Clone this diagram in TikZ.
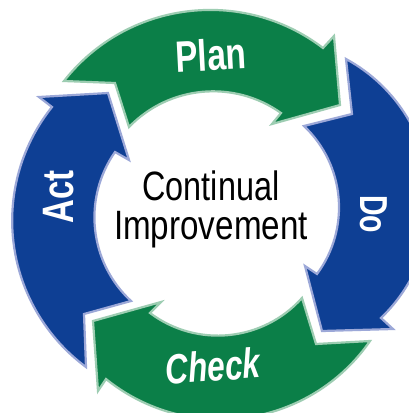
\documentclass[tikz,border=0pt]{standalone}
\usepackage{fontspec}
\setmainfont{Liberation Sans}
\usetikzlibrary{svg.path}
\definecolor{gfill}{HTML}{0B7F48}
\definecolor{gedge}{HTML}{9DCDB2}
\definecolor{bfill}{HTML}{0E3F94}
\definecolor{bedge}{HTML}{9CA8D8}
\tikzset{
  greenarrow/.style={fill=gfill,draw=gedge,line width=2.2pt,line join=miter,miter limit=10},
  bluearrow/.style={fill=bfill,draw=bedge,line width=2.2pt,line join=miter,miter limit=10},
  stagelabel/.style={text=white,font=\bfseries\fontsize{44}{44}\selectfont,inner sep=0pt},
  centrelabel/.style={text=black,font=\fontsize{41}{44}\selectfont,inner sep=0pt,anchor=base}
}
\begin{document}
\begin{tikzpicture}[x=1pt,y=-1pt]
\useasboundingbox[fill=white] (0,0) rectangle (409,413);
\clip (0,0) rectangle (409,413);
\begin{scope}[yscale=-1]
\draw[greenarrow] svg "M 64 81 A 186 186 0 0 1 323 48 L 334 36 L 340 105 L 272 124 L 281 113 A 117 117 0 0 0 129 127 L 115 83 Z";
\draw[bluearrow] svg "M 346 59 A 162 162 0 0 1 381 318 L 393 329 L 322 331 L 305 266 L 317 274 A 112 112 0 0 0 304 126 L 352 114 Z";
\draw[bluearrow] svg "M 39 97 L 108 93 L 129 160 L 115 152 A 114 114 0 0 0 131 301 L 84 314 L 86 367 A 182 182 0 0 1 52 107 Z";
\draw[greenarrow] svg "M 93 321 L 161 302 L 150 313 A 113 113 0 0 0 302 298 L 316 344 L 370 341 A 182 182 0 0 1 106 379 L 98 391 Z";
\end{scope}
\node[stagelabel,rotate=3] (plan) at (211,55) {\scalebox{0.76}[1]{Plan}};
\node[stagelabel,rotate=90] (act) at (59,197) {\scalebox{0.75}[1]{Act}};
\node[stagelabel,rotate=-90,font=\bfseries\fontsize{39}{39}\selectfont] (do) at (374,214) {\scalebox{0.73}[1]{Do}};
\node[stagelabel,rotate=4,font=\bfseries\itshape\fontsize{42}{42}\selectfont] (check) at (213,366) {\scalebox{0.75}[1]{Check}};
\node[centrelabel] (cont) at (211,200) {\scalebox{0.79}[1]{Continual}};
\node[centrelabel] (impr) at (211,239) {\scalebox{0.81}[1]{Improvement}};
\end{tikzpicture}
\end{document}
